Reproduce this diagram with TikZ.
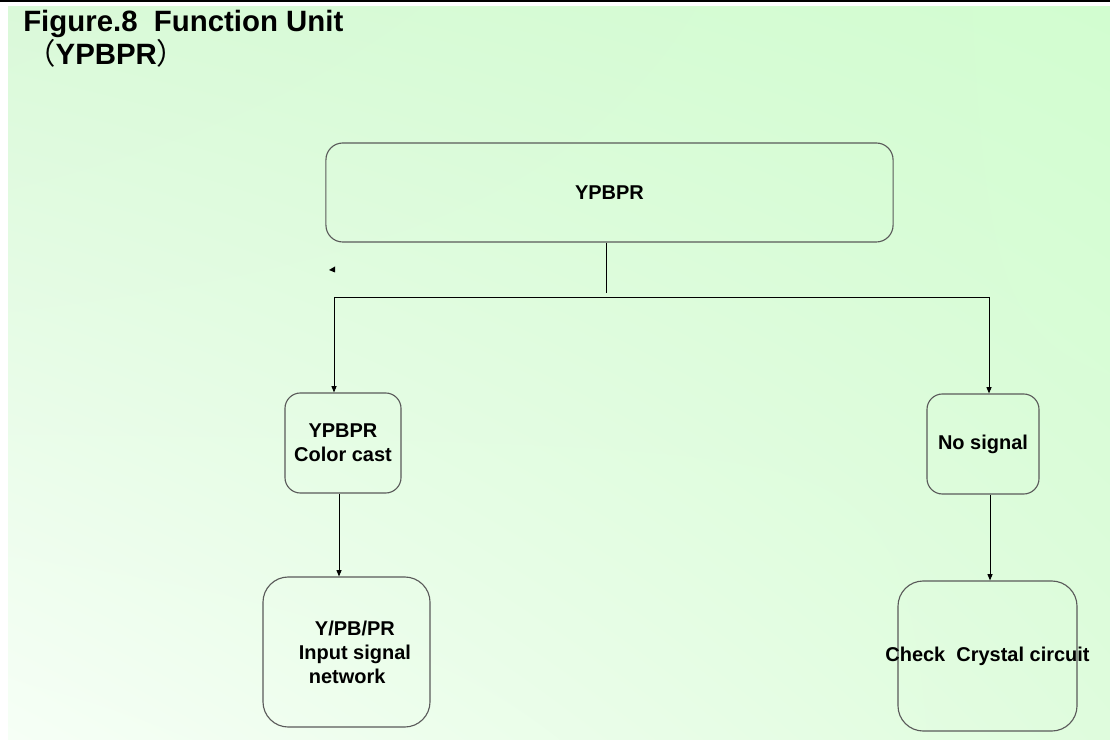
\documentclass[tikz,border=0pt]{standalone}
\usepackage{fontspec}
\setmainfont{Liberation Sans}
\newfontfamily\cjk{Noto Sans CJK SC}
\usepackage{tikz}
\usetikzlibrary{arrows.meta,shadings}
\definecolor{Frame}{HTML}{5A5A5A}
\definecolor{PaleTop}{HTML}{DAF9D9}
\definecolor{LeafTop}{HTML}{D2FDD0}
\definecolor{PaleLow}{HTML}{F6FFF6}
\definecolor{LeafLow}{HTML}{DFFCDD}

\begin{document}
\begin{tikzpicture}[
    x=0.025cm,y=-0.025cm,
    font=\fontsize{14.2}{17}\selectfont\bfseries,
    unit/.style={draw=Frame,line width=0.8pt,rounded corners=#1,align=center,inner sep=2pt},
    unit/.default=11pt,
    heading/.style={anchor=base west,font=\fontsize{20.9}{24}\selectfont\bfseries,inner sep=0pt},
    link/.style={draw=black,line width=0.7pt},
    arrow/.style={link,-{Triangle[length=4.5pt,width=3.6pt]}}
]
\useasboundingbox (0,0) rectangle (1110,740);
% page background
\fill[white] (0,0) rectangle (1110,740);
\shade[upper left=PaleTop,upper right=LeafTop,lower left=PaleLow,lower right=LeafLow]
  (8,7) rectangle (1110,739);
\draw[line width=1.5pt] (0,0.6) -- (1110,0.6);

\node[heading] (title) at (23,32) {Figure.8\ \ Function Unit};
\node[heading] (subtitle) at (26,65) {{\cjk\mdseries （}YPBPR{\cjk\mdseries ）}};

\node[unit=12pt,minimum width=14.175cm,minimum height=2.475cm] (top) at (609.5,192.5) {YPBPR};
\node[unit,minimum width=2.9cm,minimum height=2.5cm] (cast) at (343,443) {YPBPR\\Color cast};
\node[unit,minimum width=2.8cm,minimum height=2.5cm] (nosig) at (983,444) {No signal};
\node[unit=18pt,minimum width=4.175cm,minimum height=3.75cm,
  label={[align=center,xshift=0.21cm]center:Y/PB/PR\\Input signal\\network\hspace*{11pt}}] (network) at (346.5,652) {};
\node[unit=18pt,minimum width=4.475cm,minimum height=3.75cm,
  label={center:Check\ \ Crystal circuit}] (crystal) at (987.5,656) {};

% stray tip left over in the source
\fill (329,270) -- (335,266.5) -- (335,272.5) -- cycle;

\coordinate (stem) at (606,293);
\coordinate (busL) at (334,297);
\coordinate (busR) at (989,297);
\draw[link] (top.south -| stem) -- (stem);
\draw[link] (busL) -- (busR);
\draw[arrow] (busL) -- (busL |- cast.north);
\draw[arrow] (busR) -- (busR |- nosig.north);
\draw[arrow] ([xshift=-0.1cm]cast.south) -- ([xshift=-0.1cm]cast.south |- network.north);
\draw[arrow] ([xshift=0.175cm]nosig.south) -- ([xshift=0.175cm]nosig.south |- crystal.north);
\end{tikzpicture}
\end{document}
